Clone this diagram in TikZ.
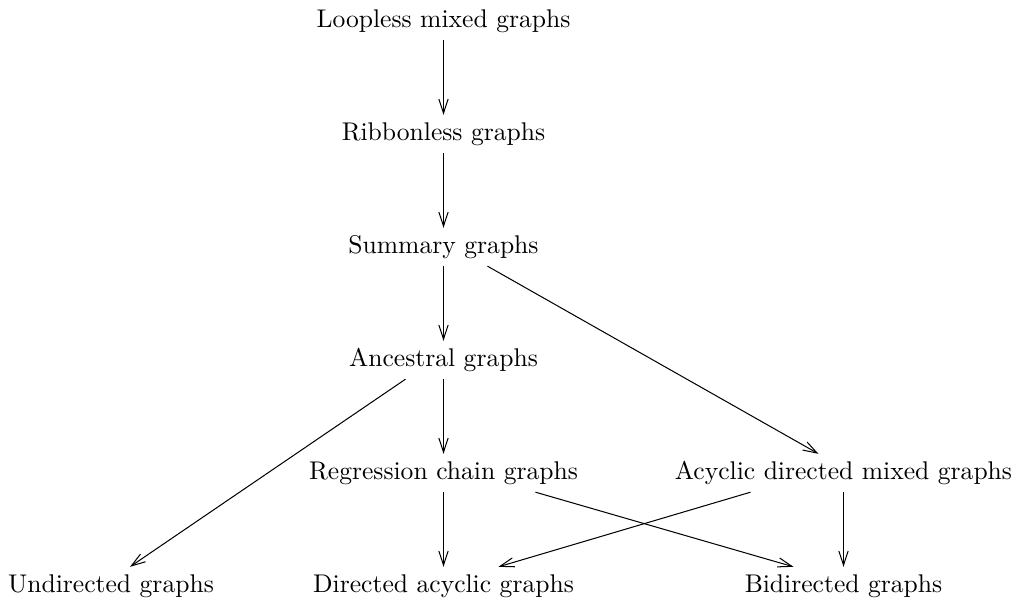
\documentclass[tikz,border=0pt]{standalone}
\usetikzlibrary{arrows.meta}
\newdimen\pxu \pxu=0.3909pt
\begin{document}
\begin{tikzpicture}[x=0.3909pt,y=-0.3909pt,
  gnode/.style={inner sep=3pt,outer sep=0pt,text height=7pt,text depth=2pt,font=\fontsize{10}{12}\selectfont},
  arr/.style={line width=0.4pt,-{Straight Barb[length=5.5pt,width=3.6pt]}}]
\useasboundingbox (0,0) rectangle (1019,603);
\node[gnode] (lmg) at (443.5,21) {Loopless mixed graphs};
\node[gnode] (rg) at (443.5,134) {Ribbonless graphs};
\node[gnode] (sg) at (443.5,247) {Summary graphs};
\node[gnode] (ag) at (443.5,360) {Ancestral graphs};
\node[gnode] (rcg) at (443.5,473) {Regression chain graphs};
\node[gnode] (admg) at (843.5,473) {Acyclic directed mixed graphs};
\node[gnode] (ug) at (111,586) {Undirected graphs};
\node[gnode] (dag) at (443.5,586) {Directed acyclic graphs};
\node[gnode] (bg) at (843.5,586) {Bidirected graphs};
\draw[arr] (lmg) -- (rg);
\draw[arr] (rg) -- (sg);
\draw[arr] (sg) -- (ag);
\draw[arr] (ag) -- (rcg);
\draw[arr] (rcg) -- (dag);
\draw[arr] (admg) -- (bg);
\draw[arr] ([xshift=44\pxu]sg.south) -- ([xshift=-25\pxu]admg.north);
\draw[arr] ([xshift=-38\pxu]ag.south) -- ([xshift=19\pxu]ug.north);
\draw[arr] ([xshift=92\pxu]rcg.south) -- ([xshift=-50\pxu]bg.north);
\draw[arr] ([xshift=-93\pxu]admg.south) -- ([xshift=55\pxu]dag.north);
\end{tikzpicture}
\end{document}
